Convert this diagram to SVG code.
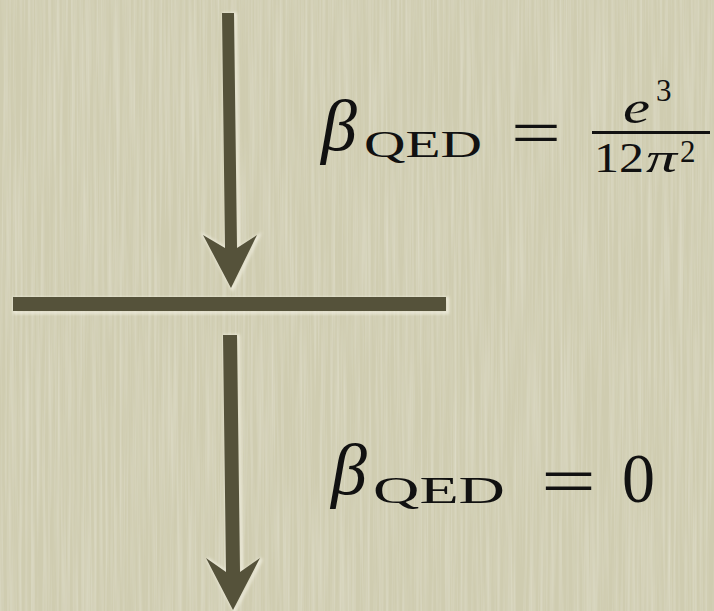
<svg xmlns="http://www.w3.org/2000/svg" width="714" height="611" viewBox="0 0 714 611">
  <defs>
    <filter id="paper" x="0" y="0" width="100%" height="100%">
      <feTurbulence type="fractalNoise" baseFrequency="0.35 0.006" numOctaves="3" seed="4" result="n"/>
      <feColorMatrix in="n" type="matrix" values="0 0 0 0 0.92  0 0 0 0 0.91  0 0 0 0 0.83  0 0 0 0.55 -0.2" result="light"/>
      <feComposite in="light" in2="SourceGraphic" operator="over"/>
    </filter>
    <filter id="halo" x="-20%" y="-20%" width="140%" height="140%">
      <feGaussianBlur stdDeviation="1.6"/>
    </filter>
  </defs>
  <style>
    .ink { fill: #55523a; }
    .glow { fill: none; stroke: #f1efe0; stroke-width: 3; opacity: 0.85; }
    text { font-family: "Liberation Serif", "DejaVu Serif", serif; fill: #111111; }
    .it { font-style: italic; }
  </style>

  <rect x="0" y="0" width="714" height="611" fill="#cfccb0" filter="url(#paper)"/>

  <g id="barrier">
    <rect x="13" y="297" width="433" height="14" class="glow" filter="url(#halo)" transform="translate(1.5,1.5)"/>
    <rect x="13" y="297" width="433" height="14" class="ink"/>
  </g>

  <g id="connectors">
    <g id="arrow-top">
      <path class="glow" filter="url(#halo)" transform="translate(1.5,1)" d="M222,13 L234,13 L237,248 L257,235 L231,288 L203,235 L225,248 Z"/>
      <path class="ink" d="M222,13 L234,13 L237,248 L257,235 L231,288 L203,235 L225,248 Z"/>
    </g>
    <g id="arrow-bottom">
      <path class="glow" filter="url(#halo)" transform="translate(1.5,1)" d="M223,335 L237,335 L240,572 L260,558 L233,610 L206,558 L226,572 Z"/>
      <path class="ink" d="M223,335 L237,335 L240,572 L260,558 L233,610 L206,558 L226,572 Z"/>
    </g>
  </g>

  <g id="label-top">
    <text class="it" x="321" y="150" font-size="72">β</text>
    <text x="364" y="157" font-size="37" textLength="118" lengthAdjust="spacingAndGlyphs">QED</text>
    <text x="511" y="155" font-size="66" textLength="50" lengthAdjust="spacingAndGlyphs">=</text>
    <text class="it" x="623" y="123" font-size="46" textLength="27" lengthAdjust="spacingAndGlyphs">e</text>
    <text x="656" y="101" font-size="31">3</text>
    <rect x="592" y="131" width="118" height="3" fill="#111111"/>
    <text x="594" y="172" font-size="43" textLength="50" lengthAdjust="spacingAndGlyphs">12</text>
    <text class="it" x="646" y="172" font-size="43" textLength="31" lengthAdjust="spacingAndGlyphs">π</text>
    <text x="680" y="162" font-size="31">2</text>
  </g>

  <g id="label-bottom">
    <text class="it" x="331" y="494" font-size="72">β</text>
    <text x="373" y="503" font-size="38" textLength="132" lengthAdjust="spacingAndGlyphs">QED</text>
    <text x="541" y="505" font-size="70" textLength="55" lengthAdjust="spacingAndGlyphs">=</text>
    <text x="622" y="502" font-size="70" textLength="33" lengthAdjust="spacingAndGlyphs">0</text>
  </g>
</svg>
